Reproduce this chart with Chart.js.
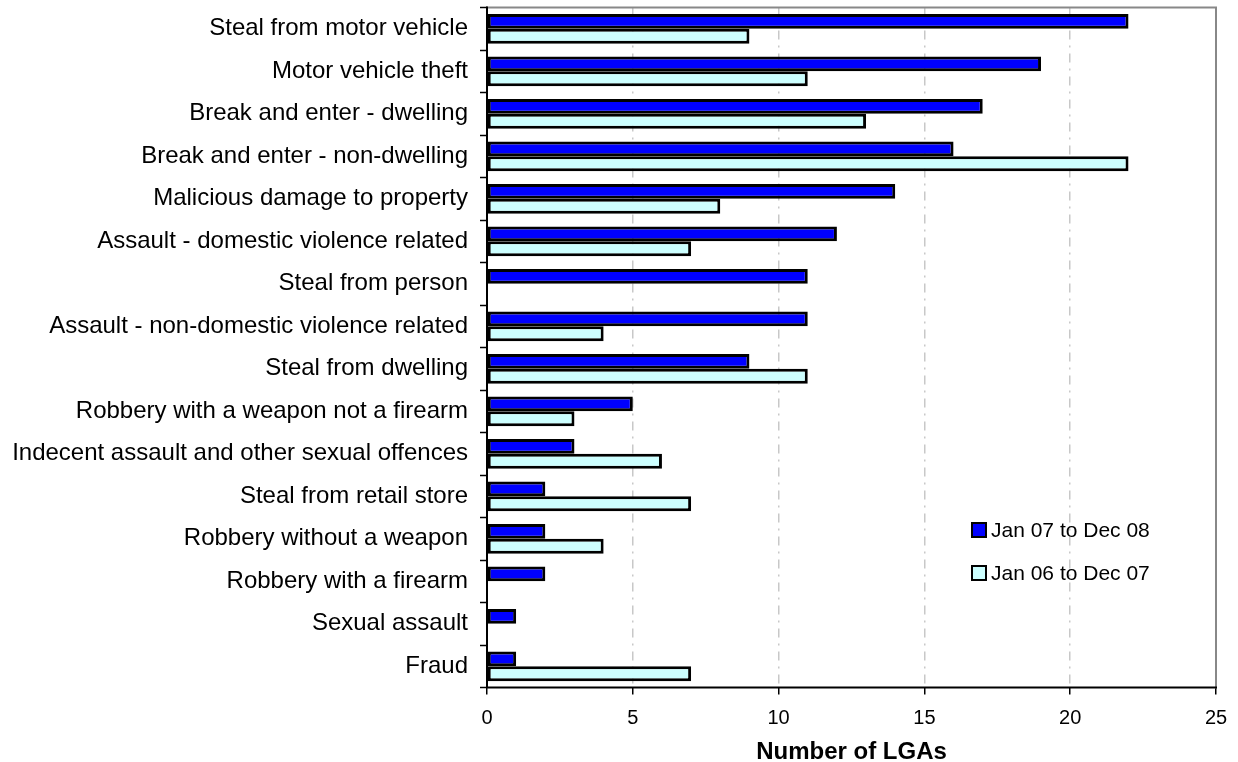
<!DOCTYPE html>
<html>
<head>
<meta charset="utf-8">
<script src="https://cdn.jsdelivr.net/npm/chart.js@4/dist/chart.umd.min.js"></script>
<style>
html,body{margin:0;padding:0;background:#fff;}
#wrap{width:1238px;height:762px;}
</style>
</head>
<body>
<div id="wrap"><canvas id="c" width="1238" height="762"></canvas></div>
<script>
const categories = [
  "Steal from motor vehicle",
  "Motor vehicle theft",
  "Break and enter - dwelling",
  "Break and enter - non-dwelling",
  "Malicious damage to property",
  "Assault - domestic violence related",
  "Steal from person",
  "Assault - non-domestic violence related",
  "Steal from dwelling",
  "Robbery with a weapon not a firearm",
  "Indecent assault and other sexual offences",
  "Steal from retail store",
  "Robbery without a weapon",
  "Robbery with a firearm",
  "Sexual assault",
  "Fraud"
];
const seriesNames = ["Jan 07 to Dec 08", "Jan 06 to Dec 07"];
const values0708 = [22, 19, 17, 16, 14, 12, 11, 11, 9, 5, 3, 2, 2, 2, 1, 1];
const values0607 = [9, 11, 13, 22, 8, 7, 0, 4, 11, 3, 6, 7, 4, 0, 0, 7];
const xTicks = [0, 5, 10, 15, 20, 25];
const axisTitle = "Number of LGAs";

const FONT = "'Liberation Sans', Arial, sans-serif";

const framePlugin = {
  id: 'frame',
  afterDatasetsDraw(chart) {
    const {ctx, chartArea: a} = chart;
    ctx.save();
    ctx.lineCap = 'square';
    ctx.strokeStyle = '#888888';
    ctx.lineWidth = 2;
    ctx.beginPath();
    ctx.moveTo(a.left, a.top); ctx.lineTo(a.right, a.top); ctx.lineTo(a.right, a.bottom);
    ctx.stroke();
    ctx.strokeStyle = '#000000';
    ctx.lineWidth = 2;
    ctx.beginPath();
    ctx.moveTo(a.left, a.top); ctx.lineTo(a.left, a.bottom); ctx.lineTo(a.right, a.bottom);
    ctx.stroke();
    ctx.restore();
  }
};

const legendPlugin = {
  id: 'insideLegend',
  afterDraw(chart) {
    const {ctx, chartArea: a} = chart;
    ctx.save();
    ctx.font = "21px " + FONT;
    ctx.textBaseline = 'middle';
    ctx.textAlign = 'left';
    const x0 = a.left + 485;
    const y0 = a.top + 522.5;
    chart.data.datasets.forEach((ds, i) => {
      const y = y0 + i * 43;
      ctx.fillStyle = ds.backgroundColor;
      ctx.fillRect(x0, y - 7, 14, 14);
      ctx.strokeStyle = '#000';
      ctx.lineWidth = 2;
      ctx.strokeRect(x0, y - 7, 14, 14);
      ctx.fillStyle = '#000';
      ctx.fillText(ds.label, x0 + 19, y + 1);
    });
    ctx.restore();
  }
};

new Chart(document.getElementById('c'), {
  type: 'bar',
  data: {
    labels: categories,
    datasets: [
      {label: seriesNames[0], data: values0708, backgroundColor: '#0000FF', borderColor: '#000000', borderWidth: 3, borderSkipped: false},
      {label: seriesNames[1], data: values0607, backgroundColor: '#CCFFFF', borderColor: '#000000', borderWidth: 3, borderSkipped: false}
    ]
  },
  options: {
    indexAxis: 'y',
    responsive: false,
    animation: false,
    devicePixelRatio: 1,
    layout: {padding: {top: 7.5, right: 22, left: 0, bottom: 0}},
    datasets: {bar: {categoryPercentage: 0.7, barPercentage: 1.0}},
    plugins: {legend: {display: false}, tooltip: {enabled: false}},
    scales: {
      x: {
        min: 0, max: 25,
        afterBuildTicks(scale) { scale.ticks = xTicks.map(v => ({value: v})); },
        afterFit(scale) { scale.height = 74.5; scale.paddingLeft = 0; scale.paddingRight = 0; },
        ticks: {color: '#000', font: {family: FONT, size: 20}, padding: 12, maxRotation: 0},
        grid: {
          color: ctx => (ctx.tick && (ctx.tick.value === 0 || ctx.tick.value === 25)) ? 'rgba(0,0,0,0)' : '#c8c8c8',
          lineWidth: 1.5,
          tickLength: 7,
          tickColor: '#000',
          tickWidth: 1.5,
          tickBorderDash: []
        },
        border: {display: false, dash: [9, 6, 2, 6]},
        title: {display: true, text: axisTitle, color: '#000', font: {family: FONT, size: 24, weight: 'bold', lineHeight: 1.0}, padding: {top: 0, bottom: -2}}
      },
      y: {
        afterFit(scale) { scale.width = 487; scale.paddingTop = 0; scale.paddingBottom = 0; },
        ticks: {color: '#000', font: {family: FONT, size: 24}, padding: 12, autoSkip: false},
        grid: {drawOnChartArea: false, tickLength: 7, tickColor: '#000', tickWidth: 1.5, offset: true},
        border: {display: false}
      }
    }
  },
  plugins: [framePlugin, legendPlugin]
});
</script>
</body>
</html>
